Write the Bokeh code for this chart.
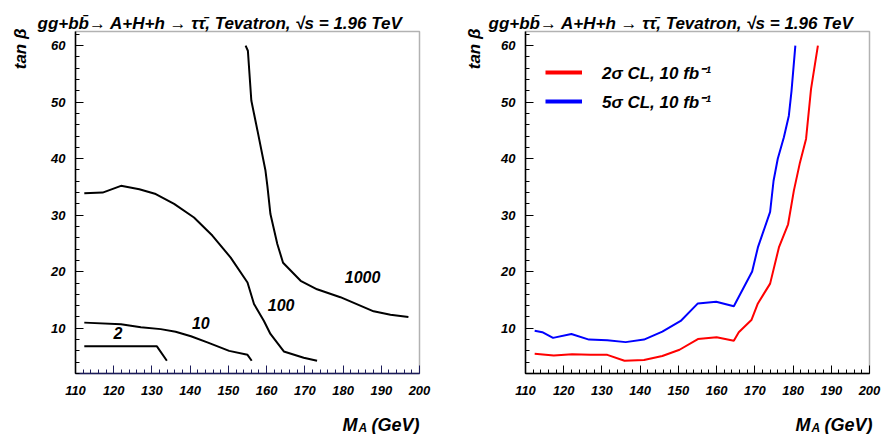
import math
from bokeh.plotting import figure
from bokeh.models import (Range1d, SingleIntervalTicker, Label, Legend, LegendItem,
                          LinearAxis, BoxAnnotation)
from bokeh.layouts import row
from bokeh.core.properties import value
from bokeh.embed import file_html
from bokeh.resources import INLINE

# ---------------- data ----------------
# Left panel: contours (black)
mass_c2 = [112.3, 131.3, 133.9]
tanb_c2 = [6.8, 6.8, 4.25]

mass_c10 = [112.3, 121.9, 127.1, 132.3, 136.2, 140.2, 144.5, 150.2, 155.0, 156.1]
tanb_c10 = [11.0, 10.7, 10.2, 9.85, 9.4, 8.6, 7.5, 6.0, 5.3, 4.25]

mass_c100 = [112.3, 117.1, 121.9, 126.7, 131.0, 135.8, 141.0, 145.8, 150.6, 155.0,
             156.7, 159.3, 161.0, 164.5, 169.7, 173.2]
tanb_c100 = [33.9, 34.0, 35.2, 34.6, 33.75, 32.0, 29.6, 26.4, 22.5, 18.1,
             14.3, 11.3, 9.0, 5.9, 4.8, 4.25]

mass_c1000 = [154.5, 155.1, 156.0, 157.6, 159.7, 160.2, 161.0, 162.8, 164.3, 168.9,
              173.2, 179.3, 188.0, 192.4, 197.1]
tanb_c1000 = [60.0, 59.1, 50.3, 45.0, 37.9, 35.2, 30.2, 24.9, 21.6, 18.4,
              16.9, 15.5, 13.0, 12.4, 12.0]

contour_labels = ["2", "10", "100", "1000"]
contour_label_x = [121.1, 142.8, 163.8, 185.1]
contour_label_y = [9.1, 11.0, 14.1, 19.1]

# Right panel: reach curves
mass_2s = [112.4, 117.4, 122.2, 127.0, 131.4, 135.9, 141.0, 145.8, 150.3, 155.1,
           160.0, 164.5, 165.8, 169.1, 170.8, 174.0, 176.3, 178.7, 180.2, 181.8,
           183.4, 184.7, 186.5]
tanb_2s = [5.5, 5.2, 5.4, 5.3, 5.3, 4.25, 4.4, 5.1, 6.2, 8.1,
           8.4, 7.8, 9.3, 11.45, 14.4, 17.9, 24.3, 28.4, 34.3, 39.3,
           43.5, 52.3, 60.0]

mass_5s = [112.4, 114.4, 117.2, 122.0, 126.6, 131.4, 136.2, 141.0, 145.8, 150.6,
           155.1, 159.9, 164.5, 169.3, 170.8, 174.0, 174.9, 176.0, 177.6, 178.9,
           179.6, 180.6]
tanb_5s = [9.55, 9.3, 8.3, 9.0, 8.0, 7.9, 7.55, 8.0, 9.4, 11.3,
           14.4, 14.7, 13.9, 20.05, 24.3, 30.6, 36.1, 40.0, 43.8, 47.6,
           52.0, 60.0]

legend_labels = ["2\u03c3 CL, 10 fb\u207b\u00b9", "5\u03c3 CL, 10 fb\u207b\u00b9"]

# axis extents of each panel
X_MIN, X_MAX = 110, 200
Y_MIN, Y_MAX = 2.0, 62.5
TICK_INTERVAL = 10

TITLE = "gg+bb\u0304\u2192 A+H+h \u2192 \u03c4\u03c4\u0304, Tevatron, \u221as = 1.96 TeV"
FONT = "Liberation Sans"

# ---------------- layout (pixels) ----------------
CANVAS_H = 434
BOX_W, BOX_H = 344, 342
BOX_TOP = 31


def make_fig(width, box_left, axis_color, title_dx, ylab_dx, xl_offsets):
    pxu = BOX_W / (X_MAX - X_MIN)
    pyu = BOX_H / (Y_MAX - Y_MIN)
    box_bottom = BOX_TOP + BOX_H
    xr = Range1d(X_MIN - box_left / pxu, X_MAX + (width - box_left - BOX_W) / pxu)
    yr = Range1d(Y_MIN - (CANVAS_H - box_bottom) / pyu, Y_MAX + BOX_TOP / pyu)
    p = figure(width=width, height=CANVAS_H, x_range=xr, y_range=yr,
               output_backend="svg", toolbar_location=None,
               x_axis_location=None, y_axis_location=None,
               min_border=0, min_border_left=0, min_border_right=0,
               min_border_top=0, min_border_bottom=0)
    p.grid.visible = False
    p.outline_line_color = None
    p.background_fill_color = "white"
    p.border_fill_color = "white"

    # frame box
    p.add_layout(BoxAnnotation(left=X_MIN, right=X_MAX, bottom=Y_MIN, top=Y_MAX,
                               fill_alpha=0, line_color="black", line_width=1.5,
                               level="underlay"))

    xaxis = LinearAxis(fixed_location=Y_MIN, bounds=(X_MIN, X_MAX),
                       ticker=SingleIntervalTicker(interval=TICK_INTERVAL, num_minor_ticks=5))
    yaxis = LinearAxis(fixed_location=X_MIN, bounds=(Y_MIN, Y_MAX),
                       ticker=SingleIntervalTicker(interval=TICK_INTERVAL, num_minor_ticks=5))
    for ax in (xaxis, yaxis):
        ax.major_tick_in = 8
        ax.major_tick_out = 0
        ax.minor_tick_in = 4
        ax.minor_tick_out = 0
        ax.axis_line_width = 1.5
        ax.major_label_text_font = FONT
        ax.major_label_text_font_style = "bold italic"
        ax.major_label_text_font_size = "13px"
        ax.major_label_text_color = "black"
    xaxis.axis_line_color = axis_color
    xaxis.major_tick_line_color = axis_color
    xaxis.minor_tick_line_color = axis_color
    xaxis.major_label_standoff = 12
    yaxis.major_label_standoff = 10
    p.add_layout(xaxis, "below")
    p.add_layout(yaxis, "left")

    # title
    p.add_layout(Label(x=X_MIN, y=Y_MAX, x_offset=title_dx, y_offset=8, text=TITLE,
                       text_font=FONT, text_font_style="bold italic",
                       text_font_size="17px", text_align="left",
                       text_baseline="alphabetic", text_color="black"))
    # y axis label
    p.add_layout(Label(x=X_MIN, y=Y_MAX, x_offset=ylab_dx, y_offset=3, text="tan \u03b2",
                       angle=math.pi / 2, text_font=FONT, text_font_style="bold italic",
                       text_font_size="17px", text_align="right",
                       text_baseline="middle", text_color="black"))
    # x axis label  M_A (GeV)
    mx, ax_, gx = xl_offsets
    p.add_layout(Label(x=X_MAX, y=Y_MIN, x_offset=mx, y_offset=-51, text="M",
                       text_font=FONT, text_font_style="bold italic",
                       text_font_size="18px", text_align="left",
                       text_baseline="alphabetic", text_color="black"))
    p.add_layout(Label(x=X_MAX, y=Y_MIN, x_offset=ax_, y_offset=-54, text="A",
                       text_font=FONT, text_font_style="bold italic",
                       text_font_size="12px", text_align="left",
                       text_baseline="alphabetic", text_color="black"))
    p.add_layout(Label(x=X_MAX, y=Y_MIN, x_offset=gx, y_offset=-51, text="(GeV)",
                       text_font=FONT, text_font_style="bold italic",
                       text_font_size="18px", text_align="left",
                       text_baseline="alphabetic", text_color="black"))
    return p


p1 = make_fig(440, 75, "#1c1c5a", -38, -55, (-77, -61, -48))
for xs, ys in ((mass_c2, tanb_c2), (mass_c10, tanb_c10),
               (mass_c100, tanb_c100), (mass_c1000, tanb_c1000)):
    p1.line(xs, ys, line_color="black", line_width=2)
p1.text(x=contour_label_x, y=contour_label_y, text=contour_labels,
        text_font=value(FONT), text_font_style="bold italic",
        text_font_size="16px", text_align="center", text_baseline="middle",
        text_color="black")

p2 = make_fig(441, 85, "black", -37, -51, (-74, -58, -45))
p2.line(mass_2s, tanb_2s, line_color="red", line_width=2)
p2.line(mass_5s, tanb_5s, line_color="blue", line_width=2)
# thicker, hidden copies used only as legend samples
leg_red = p2.line(mass_2s, tanb_2s, line_color="red", line_width=4, visible=False)
leg_blue = p2.line(mass_5s, tanb_5s, line_color="blue", line_width=4, visible=False)
legend = Legend(items=[LegendItem(label=legend_labels[0], renderers=[leg_red]),
                       LegendItem(label=legend_labels[1], renderers=[leg_blue])],
                location=(105, 320), orientation="vertical", click_policy="none",
                border_line_color=None, background_fill_alpha=0,
                padding=0, margin=0, spacing=3,
                glyph_width=37, glyph_height=26, label_height=26,
                label_standoff=20, label_text_font=FONT, label_text_color="black",
                label_text_font_style="bold italic", label_text_font_size="17px")
p2.add_layout(legend)

layout = row(p1, p2)
open("out.html", "w").write(file_html(layout, INLINE))
